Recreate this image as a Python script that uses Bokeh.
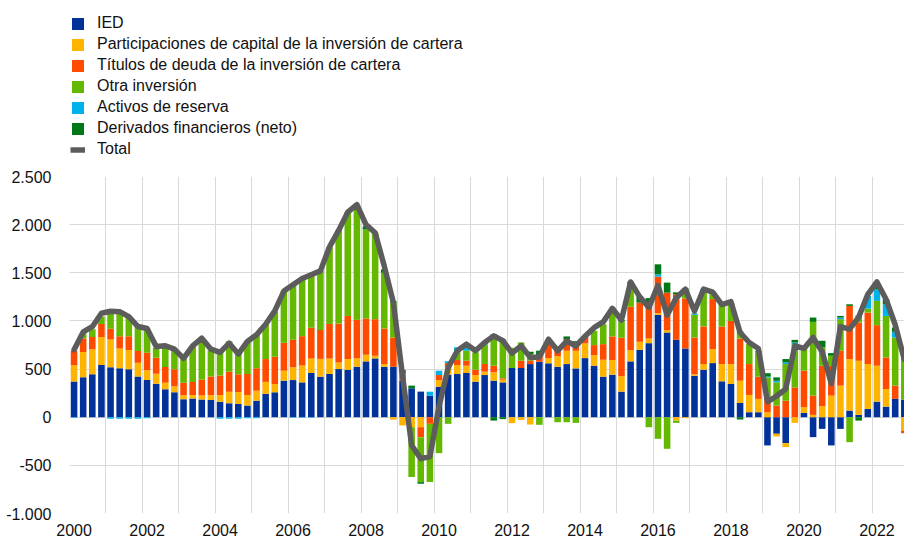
from bokeh.plotting import figure
from bokeh.layouts import column
from bokeh.models import ColumnDataSource, Legend, LegendItem, FixedTicker, Range1d
from bokeh.embed import file_html
from bokeh.resources import INLINE

# ---------------- data (EUR bn, quarterly 2000Q1 - 2022Q4) ----------------
quarters = [f"{y}Q{q}" for y in range(2000, 2023) for q in range(1, 5)]

ied = [370, 415, 445, 542, 518, 508, 497, 424, 386, 348, 290, 259,
       186, 195, 185, 178, 160, 145, 137, 121, 172, 242, 259, 380,
       386, 362, 459, 421, 449, 500, 493, 524, 580, 611, 524, 524,
       380, 300, 266, 224, 317, 442, 449, 459, 369, 438, 380, 362,
       511, 511, 552, 576, 560, 524, 552, 507, 614, 535, 421, 442,
       266, 580, 700, 769, 1063, 880, 804, 714, 431, 493, 562, 373,
       345, 148, 52, 52, -293, -172, -269, 0, 45, -207, -121, -293,
       -121, 69, 24, 86, 162, 110, 190, 183]
part_capital = [170, 262, 260, 290, 290, 206, 200, 142, 101, 104, 69, 62,
                42, 35, 40, 50, 72, 120, 125, 110, 104, 125, 85, 103,
                132, 175, 150, 185, 160, 69, 111, 87, 69, 27, 28, -25,
                -86, -104, -104, 0, 69, 80, 93, 76, 69, 35, 86, 28,
                -62, -28, -76, 0, 55, 110, 138, 183, 152, 110, 176, 152,
                159, 117, 83, 48, 17, 24, -35, -10, 14, 59, 145, 179,
                207, 231, 179, 138, 52, -28, -41, -59, 59, 24, 114, 224,
                328, 535, 562, 466, 373, 183, 0, -138]
titulos_deuda = [150, 140, 128, 135, 110, 128, 145, 121, 183, 166, 162, 176,
                 131, 135, 165, 196, 200, 208, 185, 218, 233, 237, 284, 290,
                 286, 305, 320, 300, 360, 404, 448, 400, 376, 380, 369, 304,
                 80, 0, -104, -69, 52, 40, 52, 52, 55, 80, 69, 14,
                 0, 76, 35, 60, 150, 80, 121, 90, 72, 104, 162, 245,
                 400, 450, 407, 380, 380, 390, 473, 520, 383, 390, 520, 390,
                 448, 438, 321, 231, 160, 121, 172, 310, 380, 200, 421, 310,
                 362, 552, 397, 535, 421, 328, 138, -28]
otra_inversion = [0, 55, 80, 80, 180, 250, 190, 250, 250, 100, 200, 190,
                  250, 370, 410, 270, 250, 315, 220, 345, 350, 360, 470, 540,
                  580, 600, 555, 615, 800, 970, 1080, 1180, 924, 897, 580, 362,
                  0, -517, -466, -604, -373, -69, 97, 104, 180, 200, 300, 390,
                  210, 190, 69, -79, 30, -52, -52, -59, 0, 148, 207, 300,
                  170, 200, 0, -104, -224, -328, -24, 69, 235, 380, 52, 226,
                  190, 79, 207, 252, 200, 241, 380, 448, 230, 766, 190, 104,
                  328, -259, 52, 41, 252, 431, 500, 450]
activos_reserva = [-5, 0, 0, 0, -15, -15, -15, -15, -12, 0, 0, 0,
                   0, 0, 0, 0, -15, -15, -15, -10, -10, 0, 0, 0,
                   -5, -5, -5, 0, 0, 0, 0, 15, 0, 0, 0, 0,
                   0, 0, 0, 41, 45, 20, 35, 45, 0, 20, 28, 17,
                   0, 0, 0, 0, 0, 0, 0, 0, 0, 0, 0, 0,
                   0, 0, 0, 0, 24, 0, 0, 0, 14, 10, 17, 0,
                   0, 0, 0, 17, 10, 17, 17, 17, 0, 0, 0, 0,
                   17, 0, 24, 131, 121, 121, 59, 0]
derivados = [0, 0, 0, 0, 0, 0, 0, 0, 0, 0, 0, 0,
             0, 0, 0, 0, 0, 0, 0, 0, 0, 0, 0, 0,
             0, 0, 0, 0, 0, 0, 0, 0, 35, 0, 35, 15,
             30, 28, -17, 0, 0, 0, 0, 0, 0, 0, -35, -20,
             0, 0, 24, 55, 0, 20, 28, 10, 0, 0, 0, 0,
             15, 60, 69, 40, 104, 104, 20, 35, 0, 0, 0, 0,
             0, -24, 0, 0, 35, 35, 35, 28, 0, 45, 69, 28,
             17, 17, -35, 0, 40, 52, 45, 0]
total = [700, 886, 940, 1080, 1100, 1096, 1045, 942, 921, 735, 742, 707,
         611, 742, 821, 707, 673, 769, 656, 787, 856, 966, 1104, 1310,
         1375, 1440, 1480, 1520, 1770, 1940, 2130, 2208, 2000, 1915, 1570, 1190,
         430, -293, -430, -408, 110, 513, 690, 759, 690, 776, 845, 794,
         665, 742, 621, 625, 810, 690, 790, 740, 840, 930, 990, 1130,
         1010, 1405, 1250, 1140, 1370, 1060, 1240, 1330, 1100, 1330, 1300, 1170,
         1200, 880, 776, 714, 160, 220, 293, 742, 714, 828, 680, 350,
         942, 914, 1040, 1276, 1405, 1225, 960, 600]

series_names = ["IED",
                "Participaciones de capital de la inversión de cartera",
                "Títulos de deuda de la inversión de cartera",
                "Otra inversión",
                "Activos de reserva",
                "Derivados financieros (neto)"]
total_name = "Total"
colors = ["#003299", "#FFB400", "#FF4B00", "#65B800", "#00B1EA", "#007816"]
total_color = "#5C5C5C"

x_tick_years = list(range(2000, 2023, 2))
y_ticks = [-1000, -500, 0, 500, 1000, 1500, 2000, 2500]
y_labels = ["-1.000", "-500", "0", "500", "1.000", "1.500", "2.000", "2.500"]

# ---------------- build ----------------
series = [ied, part_capital, titulos_deuda, otra_inversion, activos_reserva, derivados]
xs = [2000 + i * 0.25 + 0.125 for i in range(len(quarters))]

pos_base = [0.0] * len(xs)
neg_base = [0.0] * len(xs)
sources = []
for vals in series:
    bottoms, tops = [], []
    for i, v in enumerate(vals):
        if v >= 0:
            bottoms.append(pos_base[i]); tops.append(pos_base[i] + v); pos_base[i] += v
        else:
            tops.append(neg_base[i]); bottoms.append(neg_base[i] + v); neg_base[i] += v
    sources.append(ColumnDataSource(dict(x=xs, bottom=bottoms, top=tops)))
tsrc = ColumnDataSource(dict(x=xs, y=total))

FONT = "Liberation Sans"
TEXT = "#111111"
W = 904

# ---------- legend strip (top) ----------
# same data, but this strip's ranges show none of it: only its legend is seen
leg = figure(width=W, height=166, output_backend="svg", toolbar_location=None,
             x_axis_type=None, y_axis_type=None, x_range=Range1d(0, 1),
             y_range=Range1d(5000, 6000), min_border=0)
leg.outline_line_color = None
leg.xgrid.visible = False
leg.ygrid.visible = False
leg_items = []
for name, col, src in zip(series_names, colors, sources):
    r = leg.vbar(x="x", bottom="bottom", top="top", width=0.18, source=src,
                 fill_color=col, line_color=None)
    leg_items.append(LegendItem(label=name, renderers=[r]))
rl = leg.line(x="x", y="y", source=tsrc, line_color=total_color, line_width=5.5)
leg_items.append(LegendItem(label=total_name, renderers=[rl]))
legend = Legend(items=leg_items, location=(1, 8), orientation="vertical",
                margin=0, padding=0, spacing=3,
                glyph_width=15, glyph_height=15, label_height=16,
                label_standoff=12, label_text_font=FONT,
                label_text_font_size="16px", label_text_color=TEXT,
                border_line_color=None, background_fill_alpha=0)
leg.add_layout(legend)

# ---------- main chart ----------
p = figure(width=W, height=372, output_backend="svg", toolbar_location=None,
           x_range=Range1d(2000, 2022.88), y_range=Range1d(-1000, 2500),
           min_border_left=69, min_border_right=0, min_border_top=10,
           min_border_bottom=24)
p.outline_line_color = None

for src, col in zip(sources, colors):
    p.vbar(x="x", bottom="bottom", top="top", width=0.18, source=src,
           fill_color=col, line_color=None)

p.line(x="x", y="y", source=tsrc, line_color=total_color, line_width=5.5,
       line_join="round", line_cap="round")

p.xaxis.ticker = FixedTicker(ticks=[y + 0.125 for y in x_tick_years])
p.xaxis.major_label_overrides = {y + 0.125: str(y) for y in x_tick_years}
p.yaxis.ticker = FixedTicker(ticks=y_ticks)
p.yaxis.major_label_overrides = {t: l for t, l in zip(y_ticks, y_labels)}
for ax in (p.xaxis[0], p.yaxis[0]):
    ax.axis_line_color = None
    ax.major_tick_line_color = None
    ax.minor_tick_line_color = None
    ax.major_label_text_font = FONT
    ax.major_label_text_font_size = "16px"
    ax.major_label_text_color = TEXT
p.xaxis.major_label_standoff = 4
p.yaxis.major_label_standoff = 12

p.xgrid.ticker = FixedTicker(ticks=list(range(2000, 2024)))
p.ygrid.ticker = FixedTicker(ticks=y_ticks)
p.xgrid.grid_line_color = "#d9d9d9"
p.ygrid.grid_line_color = "#d9d9d9"

layout = column(leg, p, spacing=0)
open("out.html", "w").write(file_html(layout, INLINE))
